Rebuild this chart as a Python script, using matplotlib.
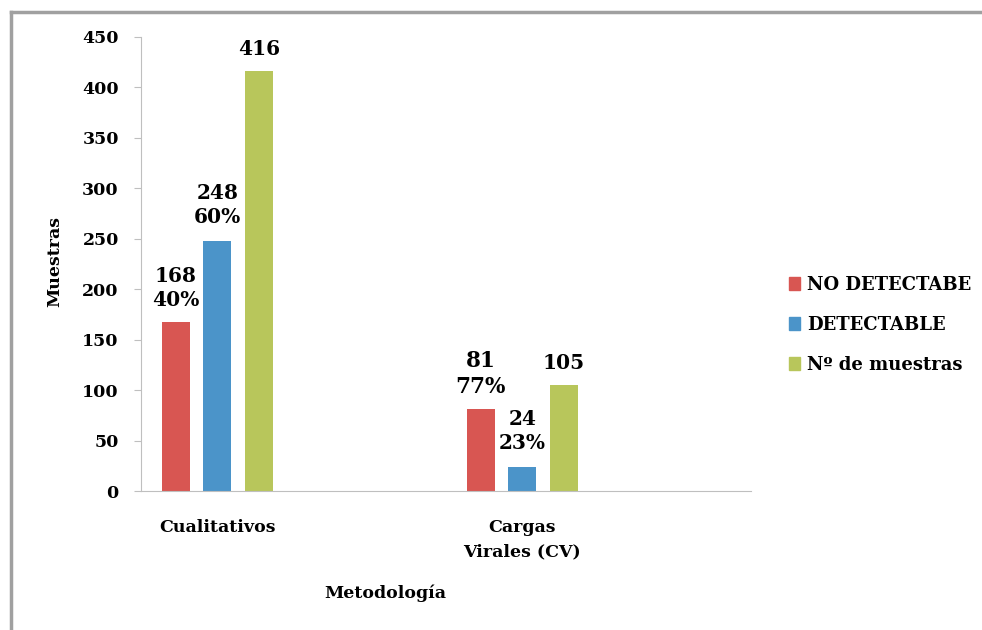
import numpy as np
import matplotlib.pyplot as plt
from matplotlib.lines import Line2D
from matplotlib.patches import Patch

# data
categorias = ['Cualitativos', 'Cargas\nVirales (CV)']
series = ['NO DETECTABE', 'DETECTABLE', 'Nº de muestras']
no_detectable = [168, 81]
detectable = [248, 24]
n_muestras = [416, 105]
pct_no_det = ['40%', '77%']
pct_det = ['60%', '23%']

colores = ['#D85652', '#4B94C9', '#B8C65B']

plt.rcParams['font.family'] = 'DejaVu Serif'
plt.rcParams['font.weight'] = 'bold'

fig = plt.figure(figsize=(9.82, 6.3), dpi=100)
ax = fig.add_axes([0.1436, 0.2206, 0.6212, 0.7207])

x = np.arange(len(categorias))
w = 0.092
d = 0.136

b1 = ax.bar(x - d, no_detectable, w, color=colores[0], label=series[0])
b2 = ax.bar(x, detectable, w, color=colores[1], label=series[1])
b3 = ax.bar(x + d, n_muestras, w, color=colores[2], label=series[2])

lab1 = [str(v) + '\n' + p for v, p in zip(no_detectable, pct_no_det)]
lab2 = [str(v) + '\n' + p for v, p in zip(detectable, pct_det)]
t1 = ax.bar_label(b1, labels=lab1, padding=8, fontsize=14.5, fontweight='bold', linespacing=1.25)
t2 = ax.bar_label(b2, labels=lab2, padding=10, fontsize=14.5, fontweight='bold', linespacing=1.25)
ax.bar_label(b3, labels=[str(v) for v in n_muestras], padding=9, fontsize=14.5, fontweight='bold')
t1[1].set_fontsize(15.5)

ax.set_xlim(-0.25, 1.75)
ax.set_ylim(0, 450)
ax.set_yticks(np.arange(0, 451, 50))
ax.set_xticks(x)
ax.set_xticklabels(categorias, fontsize=12.5, fontweight='bold', linespacing=1.6)
ax.tick_params(axis='x', length=0, pad=20)
ax.tick_params(axis='y', length=5, color='#BFBFBF', labelsize=12.5, pad=11)
for t in ax.get_yticklabels():
    t.set_fontweight('bold')

for s in ['top', 'right']:
    ax.spines[s].set_visible(False)
ax.spines['left'].set_color('#BFBFBF')
ax.spines['bottom'].set_color('#BFBFBF')

ax.set_ylabel('Muestras', fontsize=12.5, fontweight='bold')
ax.yaxis.set_label_coords(-0.128, 0.505)
ax.set_xlabel('Metodología', fontsize=12.5, fontweight='bold')
ax.xaxis.set_label_coords(0.401, -0.205)

handles = [Patch(color=c) for c in colores]
fig.legend(handles, series, loc='center left', bbox_to_anchor=(0.787, 0.484),
           frameon=False, handlelength=0.6, handleheight=0.75, handletextpad=0.4,
           labelspacing=1.22, prop={'size': 13, 'weight': 'bold'})

# marco gris exterior (solo izquierda y arriba visibles)
fig.add_artist(Line2D([11 / 982, 11 / 982], [0, 1 - 12 / 630], color='#A0A0A0', lw=2.5))
fig.add_artist(Line2D([11 / 982, 1], [1 - 12 / 630, 1 - 12 / 630], color='#A0A0A0', lw=2.5))

fig.savefig('out.png', dpi=100)
